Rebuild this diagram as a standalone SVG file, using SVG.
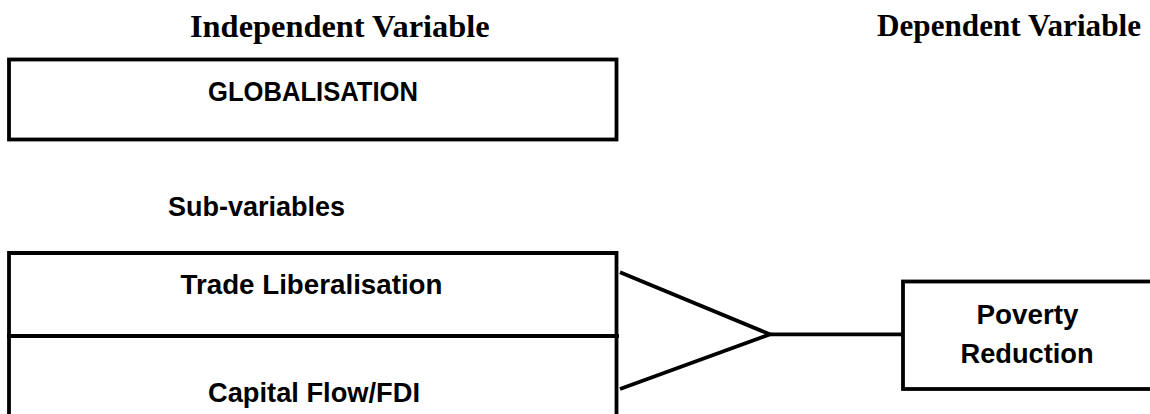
<svg xmlns="http://www.w3.org/2000/svg" width="1150" height="414" viewBox="0 0 1150 414">
  <style>
    .head { font-family: "Liberation Serif", "Times New Roman", serif; font-weight: bold; font-size: 32.4px; fill: #000; }
    .lbl { font-family: "Liberation Sans", Arial, sans-serif; font-weight: bold; font-size: 27px; fill: #000; }
    .box { fill: #fff; stroke: #000; stroke-width: 3.8; }
    .conn { fill: none; stroke: #000; stroke-width: 3.8; }
  </style>
  <rect width="1150" height="414" fill="#fff"/>

  <g id="headings">
    <text class="head" x="877" y="36" textLength="264" lengthAdjust="spacingAndGlyphs">Dependent Variable</text>
    <text class="head" x="190" y="37">Independent Variable</text>
  </g>

  <g id="globalisation">
    <rect class="box" x="9" y="59.5" width="607.5" height="80"/>
    <text class="lbl" x="313" y="101" text-anchor="middle" textLength="210" lengthAdjust="spacingAndGlyphs">GLOBALISATION</text>
  </g>

  <g id="subvariables-label">
    <text class="lbl" x="168" y="216" textLength="177" lengthAdjust="spacingAndGlyphs">Sub-variables</text>
  </g>

  <g id="trade-liberalisation">
    <path class="conn" d="M9,430 V253 H616.5 V336"/>
    <text class="lbl" x="311.5" y="294" text-anchor="middle" textLength="262" lengthAdjust="spacingAndGlyphs">Trade Liberalisation</text>
  </g>

  <g id="capital-flow">
    <path class="conn" d="M7,336 H619 M616.5,336 V430"/>
    <text class="lbl" x="314" y="401.5" text-anchor="middle" textLength="212" lengthAdjust="spacingAndGlyphs">Capital Flow/FDI</text>
  </g>

  <g id="poverty-reduction">
    <rect class="box" x="903" y="281.5" width="260" height="107.5"/>
    <text class="lbl" x="1027.5" y="323.5" text-anchor="middle" textLength="102" lengthAdjust="spacingAndGlyphs">Poverty</text>
    <text class="lbl" x="1027" y="363.3" text-anchor="middle" textLength="133" lengthAdjust="spacingAndGlyphs">Reduction</text>
  </g>

  <g id="connectors">
    <path class="conn" d="M620,272.3 L770,334.3 L620,389"/>
    <path class="conn" d="M770,334.3 H903"/>
  </g>
</svg>
